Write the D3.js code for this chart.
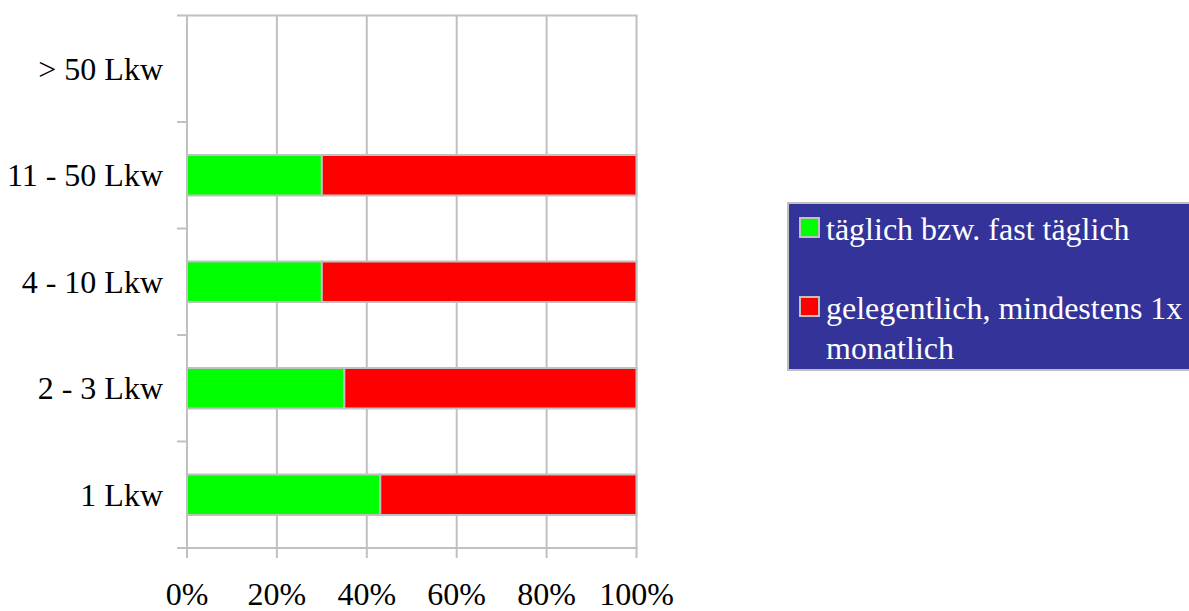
<!DOCTYPE html>
<html>
<head>
<meta charset="utf-8">
<script src="https://cdn.jsdelivr.net/npm/d3@7.9.0/dist/d3.min.js"></script>
<style>
  html, body { margin: 0; padding: 0; background: #fff; }
  svg text { font-family: "Liberation Serif", "Times New Roman", serif; }
</style>
</head>
<body>
<svg id="chart" width="1189" height="611"></svg>
<script>
// ---- data ----
const categories = ['> 50 Lkw', '11 - 50 Lkw', '4 - 10 Lkw', '2 - 3 Lkw', '1 Lkw'];
const daily = [null, 30, 30, 35, 43];        // täglich bzw. fast täglich
const occasional = [null, 70, 70, 65, 57];   // gelegentlich, mindestens 1x monatlich
const seriesNames = ['täglich bzw. fast täglich', 'gelegentlich, mindestens 1x monatlich'];
const seriesColors = ['#00ff00', '#ff0000'];
const xTicks = [0, 20, 40, 60, 80, 100];

const svg = d3.select('#chart');
const plotL = 187, plotR = 636.5, plotT = 15.5, plotB = 548;
const gridColor = '#c0c0c0';
const fontSize = 32;

const x = d3.scaleLinear().domain([0, 100]).range([plotL, plotR]);
const y = d3.scaleBand().domain(categories).range([plotT, plotB])
  .paddingInner(0.62).paddingOuter(0.31);

// gridlines (vertical)
svg.append('g').selectAll('line').data(xTicks).join('line')
  .attr('x1', d => x(d)).attr('x2', d => x(d))
  .attr('y1', plotT).attr('y2', plotB + 10)
  .attr('stroke', gridColor).attr('stroke-width', 2);

// category tick lines (horizontal) at band boundaries
const step = (plotB - plotT) / categories.length;
const boundaries = d3.range(categories.length + 1).map(i => plotT + i * step);
svg.append('g').selectAll('line').data(boundaries).join('line')
  .attr('x1', plotL - 10)
  .attr('x2', (d, i) => (i === 0 || i === categories.length) ? plotR + 1 : plotL)
  .attr('y1', d => d).attr('y2', d => d)
  .attr('stroke', gridColor).attr('stroke-width', 2);

// stacked bars
const rows = categories.map((c, i) => ({ cat: c, vals: [daily[i], occasional[i]] }));
const barG = svg.append('g');
rows.forEach(r => {
  if (r.vals[0] == null) return;
  let acc = 0;
  r.vals.forEach((v, k) => {
    barG.append('rect')
      .attr('x', x(acc)).attr('y', y(r.cat))
      .attr('width', x(acc + v) - x(acc)).attr('height', y.bandwidth())
      .attr('fill', seriesColors[k])
      .attr('stroke', gridColor).attr('stroke-width', 2);
    acc += v;
  });
});

// category labels
svg.append('g').selectAll('text').data(categories).join('text')
  .attr('x', 163).attr('y', d => y(d) + y.bandwidth() / 2 + 11)
  .attr('text-anchor', 'end')
  .attr('font-size', fontSize).attr('fill', '#000')
  .text(d => d);

// x tick labels
svg.append('g').selectAll('text').data(xTicks).join('text')
  .attr('x', d => x(d)).attr('y', 605)
  .attr('text-anchor', 'middle')
  .attr('font-size', fontSize).attr('fill', '#000')
  .text(d => d + '%');

// legend
const lg = svg.append('g');
lg.append('rect')
  .attr('x', 788).attr('y', 203).attr('width', 410).attr('height', 167)
  .attr('fill', '#333399').attr('stroke', gridColor).attr('stroke-width', 2);
const legendLines = [[seriesNames[0]], ['gelegentlich, mindestens 1x', 'monatlich']];
const legendY = [240, 319];
legendLines.forEach((lines, k) => {
  lg.append('rect')
    .attr('x', 800).attr('y', legendY[k] - 22).attr('width', 19).attr('height', 19)
    .attr('fill', seriesColors[k]).attr('stroke', gridColor).attr('stroke-width', 2);
  lines.forEach((t, j) => {
    lg.append('text')
      .attr('x', 826).attr('y', legendY[k] + j * 40)
      .attr('font-size', fontSize).attr('fill', '#fff')
      .text(t);
  });
});
</script>
</body>
</html>
